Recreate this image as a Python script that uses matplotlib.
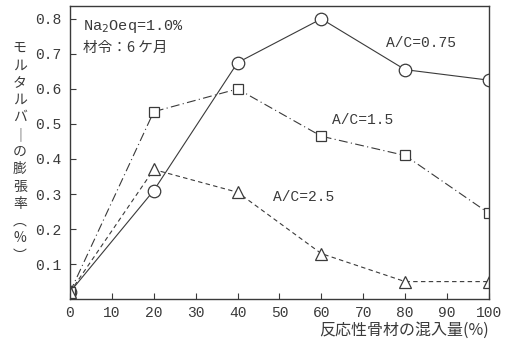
import matplotlib
matplotlib.use("Agg")
import matplotlib.pyplot as plt

plt.rcParams['font.family'] = ['Noto Sans CJK JP', 'DejaVu Sans']

mix = [0, 20, 40, 60, 80, 100]
ac075 = [0.02, 0.31, 0.675, 0.80, 0.655, 0.625]
ac15 = [0.02, 0.535, 0.60, 0.465, 0.41, 0.245]
ac25 = [0.02, 0.37, 0.305, 0.13, 0.05, 0.05]
x_ticks = [0, 10, 20, 30, 40, 50, 60, 70, 80, 90, 100]
y_ticks = [0.1, 0.2, 0.3, 0.4, 0.5, 0.6, 0.7, 0.8]

ink = '#3a3a3a'
mono = ['Liberation Mono', 'DejaVu Sans Mono']

fig = plt.figure(figsize=(5.09, 3.47), dpi=100)
ax = fig.add_axes([0.1375, 0.138, 0.823, 0.845])

ax.plot(mix, ac075, '-', color=ink, lw=0.8, marker='o', ms=9,
        mfc='white', mec=ink, mew=0.9)
ax.plot(mix, ac15, '-.', color=ink, lw=0.8, marker='s', ms=7,
        mfc='white', mec=ink, mew=0.9, dashes=(8, 3, 1, 3))
ax.plot(mix, ac25, '--', color=ink, lw=0.8, marker='^', ms=8,
        mfc='white', mec=ink, mew=0.9, dashes=(4, 3))

ax.set_xlim(0, 100)
ax.set_ylim(0, 0.837)
ax.set_xticks(x_ticks)
ax.set_yticks(y_ticks)
ax.set_xticklabels([str(v) for v in x_ticks], family=mono, fontsize=10.5, color=ink)
ax.set_yticklabels(['%.1f' % v for v in y_ticks], family=mono, fontsize=10.5, color=ink)
ax.tick_params(direction='in', length=4, width=0.8, color=ink, pad=4)
ax.tick_params(axis='y', pad=6)
ax.tick_params(axis='x', pad=5)
for s in ax.spines.values():
    s.set_color(ink)
    s.set_linewidth(1.0)

ax.text(0.03, 0.96, 'Na$_2$Oeq=1.0%', transform=ax.transAxes, family=mono,
        fontsize=11, color=ink, va='top')
ax.text(0.03, 0.88, '材令：6 ケ月', transform=ax.transAxes,
        fontsize=10.5, color=ink, va='top')
ax.text(75.5, 0.72, 'A/C=0.75', family=mono, fontsize=10.5, color=ink)
ax.text(62.5, 0.50, 'A/C=1.5', family=mono, fontsize=10.5, color=ink)
ax.text(48.5, 0.28, 'A/C=2.5', family=mono, fontsize=10.5, color=ink)

ax.set_xlabel('反応性骨材の混入量(%)', fontsize=11.5, color=ink, loc='right',
              labelpad=1)
ylab = '\n'.join(['モ', 'ル', 'タ', 'ル', 'バ', '｜', 'の', '膨', '張', '率', '︵', '%', '︶'])
fig.text(0.039, 0.562, ylab, fontsize=10, color=ink, ha='center', va='center',
         linespacing=1.3)

fig.savefig('out.png', dpi=100)
